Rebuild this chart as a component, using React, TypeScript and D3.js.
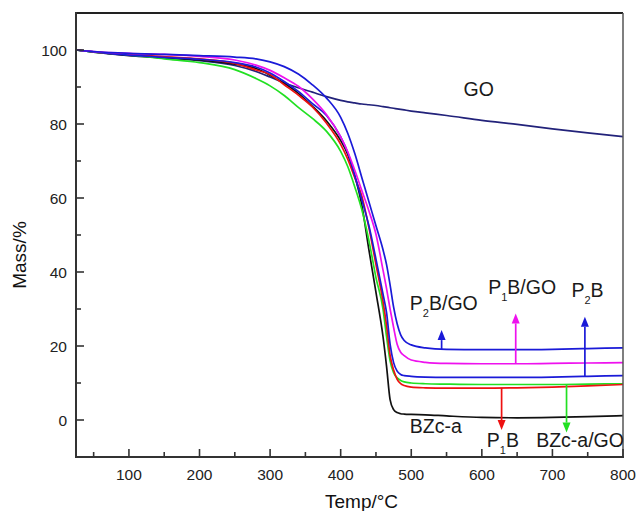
import React from 'react';
import * as d3 from 'd3';

const TEMPS = [25, 50, 100, 150, 200, 250, 280, 300, 320, 340, 360, 380, 400, 410, 420, 430, 440, 450, 460, 465, 470, 475, 480, 485, 490, 500, 520, 550, 600, 650, 700, 750, 800];

const GO = [100, 99.5, 98.6, 97.9, 97.1, 95.8, 94.2, 92.7, 91.1, 89.8, 88.6, 87.4, 86.4, 86.0, 85.7, 85.4, 85.2, 85.0, 84.7, 84.55, 84.4, 84.25, 84.1, 83.95, 83.8, 83.5, 83.0, 82.3, 81.0, 79.9, 78.7, 77.6, 76.6];
const BZCA = [100, 99.4, 98.5, 97.9, 97.3, 96.2, 95.0, 93.2, 91.0, 88.3, 84.8, 80.8, 75.5, 71.8, 66, 58, 46, 34.5, 22.5, 14.5, 5.5, 2.8, 2.0, 1.7, 1.6, 1.5, 1.4, 1.1, 0.7, 0.6, 0.7, 0.9, 1.2];
const P1B = [100, 99.5, 98.8, 98.2, 97.6, 96.4, 94.6, 93.4, 90.6, 87.8, 84.6, 80.2, 74.5, 70.5, 65.5, 60.5, 52, 42, 32, 25.5, 17.5, 13.5, 11, 9.8, 9.3, 8.9, 8.7, 8.6, 8.6, 8.7, 8.9, 9.2, 9.6];
const BZCA_GO = [100, 99.4, 98.7, 97.6, 96.6, 94.7, 92.3, 90.3, 87.7, 84.5, 81.5, 78, 72.6, 68.5, 63, 56.8, 48.5, 38.5, 30, 22.5, 16, 12.8, 11.4, 10.7, 10.3, 10.0, 9.8, 9.7, 9.6, 9.6, 9.6, 9.7, 9.8];
const P2B = [100, 99.5, 98.6, 98.0, 97.5, 96.6, 95.4, 93.8, 91.5, 88.8, 85.5, 82.3, 76.5, 72.3, 66, 59.5, 52.5, 43.5, 34, 29, 20.5, 15.5, 13.2, 12.3, 12.0, 11.8, 11.6, 11.5, 11.5, 11.5, 11.6, 11.8, 12.0];
const P1B_GO = [100, 99.6, 99.1, 98.8, 98.3, 97.3, 95.9, 94.5, 92.5, 90.2, 86.8, 82.5, 76.5, 72.5, 67.5, 62, 56.5, 50.2, 40.5, 35.5, 30, 25, 20.5, 18.3, 17.4, 16.2, 15.6, 15.3, 15.2, 15.2, 15.3, 15.4, 15.5];
const P2B_GO = [100, 99.6, 99.1, 98.8, 98.5, 98.1, 97.6, 96.8, 95.5, 93.5, 90.6, 87, 81.8, 77.5, 72, 65.5, 59, 52.5, 46, 42, 36.5, 30.5, 26, 23, 21.5, 20.3, 19.5, 19.1, 19.0, 19.0, 19.1, 19.3, 19.5];

const X_TICKS = [100, 200, 300, 400, 500, 600, 700, 800];
const X_MINOR = [50, 150, 250, 350, 450, 550, 650, 750];
const Y_TICKS = [0, 20, 40, 60, 80, 100];
const Y_MINOR = [10, 30, 50, 70, 90];

const SERIES = [
  { name: 'GO', values: GO, color: '#22227a' },
  { name: 'BZc-a', values: BZCA, color: '#111111' },
  { name: 'BZc-a/GO', values: BZCA_GO, color: '#22e022' },
  { name: 'P1B', values: P1B, color: '#ee1111' },
  { name: 'P2B', values: P2B, color: '#1a1ad8' },
  { name: 'P1B/GO', values: P1B_GO, color: '#ee11ee' },
  { name: 'P2B/GO', values: P2B_GO, color: '#1a1ad8' },
];

// annotation arrows: temperature, start mass, end mass
const ARROW_T = [543, 648, 746, 628, 720];
const ARROW_FROM = [19.0, 15.2, 11.6, 8.7, 9.6];
const ARROW_TO = [24.3, 28.8, 27.9, -2.7, -3.4];
const ARROW_COLORS = ['#1a1ad8', '#ee11ee', '#1a1ad8', '#ee1111', '#22e022'];

// labels: [main, sub, rest], temperature, mass
const LABELS = [
  { a: 'GO', sub: '', b: '', t: 574, m: 87.6 },
  { a: 'P', sub: '2', b: 'B/GO', t: 498, m: 29.7 },
  { a: 'P', sub: '1', b: 'B/GO', t: 609, m: 34.1 },
  { a: 'P', sub: '2', b: 'B', t: 727, m: 33.2 },
  { a: 'BZc-a', sub: '', b: '', t: 498, m: -3.6 },
  { a: 'P', sub: '1', b: 'B', t: 607, m: -7.2 },
  { a: 'BZc-a/GO', sub: '', b: '', t: 677, m: -7.2 },
];

const FONT = '"Liberation Sans", Arial, Helvetica, sans-serif';

export default function App() {
  const W = 638, H = 511;
  const x = d3.scaleLinear().domain([25, 800]).range([76, 623]);
  const y = d3.scaleLinear().domain([-10, 110]).range([457, 13]);
  const line = d3.line<number>()
    .x((_, i) => x(TEMPS[i]))
    .y((d) => y(d))
    .curve(d3.curveMonotoneX);

  const left = x(25), right = x(800), top = y(110), bottom = y(-10);

  return (
    <svg width={W} height={H} style={{ position: 'absolute', left: 0, top: 0, background: '#fff' }} fontFamily={FONT}>
      <rect x={0} y={0} width={W} height={H} fill="#fff" />
      {SERIES.map((s) => (
        <path key={s.name} d={line(s.values) || ''} fill="none" stroke={s.color} strokeWidth={1.7} strokeLinejoin="round" />
      ))}
      {/* arrows */}
      {ARROW_T.map((t, i) => {
        const px = x(t);
        const y0 = y(ARROW_FROM[i]);
        const y1 = y(ARROW_TO[i]);
        const dir = y1 < y0 ? -1 : 1;
        const hl = 10, hw = 4;
        return (
          <g key={i}>
            <line x1={px} x2={px} y1={y0} y2={y1 - dir * hl} stroke={ARROW_COLORS[i]} strokeWidth={1.7} />
            <path d={`M${px},${y1} L${px - hw},${y1 - dir * hl} L${px + hw},${y1 - dir * hl} Z`} fill={ARROW_COLORS[i]} />
          </g>
        );
      })}
      {/* frame */}
      <line x1={left} x2={right} y1={top} y2={top} stroke="#222" strokeWidth={2} />
      <line x1={right} x2={right} y1={top} y2={bottom} stroke="#555" strokeWidth={1.5} />
      <line x1={left} x2={left} y1={top - 1} y2={bottom + 1} stroke="#333" strokeWidth={2} />
      <line x1={left - 1} x2={right + 1} y1={bottom} y2={bottom} stroke="#333" strokeWidth={2} />
      {/* x ticks */}
      {X_TICKS.map((t) => (
        <g key={'xt' + t}>
          <line x1={x(t)} x2={x(t)} y1={bottom} y2={bottom - 8} stroke="#333" strokeWidth={1.6} />
          <text x={x(t)} y={480} textAnchor="middle" fontSize={15.5} fill="#222">{t}</text>
        </g>
      ))}
      {X_MINOR.map((t) => (
        <line key={'xm' + t} x1={x(t)} x2={x(t)} y1={bottom} y2={bottom - 5} stroke="#333" strokeWidth={1.6} />
      ))}
      {Y_TICKS.map((t) => (
        <g key={'yt' + t}>
          <line x1={left} x2={left + 8} y1={y(t)} y2={y(t)} stroke="#333" strokeWidth={1.6} />
          <text x={67} y={y(t) + 5.5} textAnchor="end" fontSize={15.5} fill="#222">{t}</text>
        </g>
      ))}
      {Y_MINOR.map((t) => (
        <line key={'ym' + t} x1={left} x2={left + 5} y1={y(t)} y2={y(t)} stroke="#333" strokeWidth={1.6} />
      ))}
      {/* axis titles */}
      <text x={325} y={508} fontSize={19} fill="#111">Temp/°C</text>
      <text transform="translate(26,255) rotate(-90)" textAnchor="middle" fontSize={19} fill="#111">Mass/%</text>
      {/* labels */}
      {LABELS.map((l, i) => (
        <text key={'lb' + i} x={x(l.t)} y={y(l.m)} fontSize={19.5} fill="#1a1a1a">
          {l.a}
          {l.sub ? <tspan fontSize={11} dy={7}>{l.sub}</tspan> : null}
          {l.sub ? <tspan dy={-7}>{l.b}</tspan> : null}
        </text>
      ))}
    </svg>
  );
}
